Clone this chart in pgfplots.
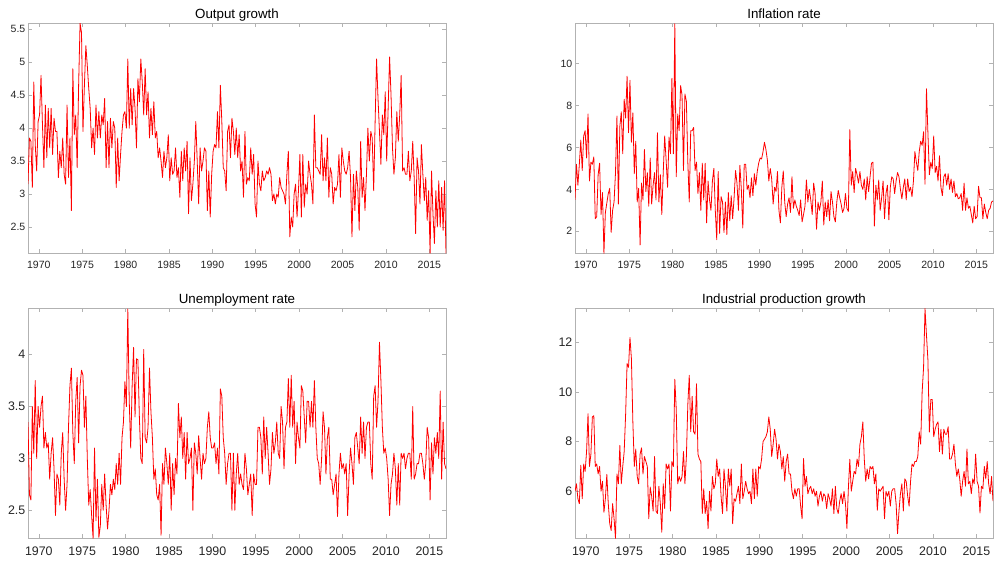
\documentclass[border=0pt]{standalone}
\usepackage{pgfplots}
\usepackage{pgfplotstable}
\pgfplotsset{compat=1.18}
\usepackage{fontspec}
\setmainfont{Liberation Sans}

\definecolor{axisgray}{RGB}{178,178,178}
\definecolor{labelgray}{RGB}{38,38,38}

% Two-monthly observations, first one at 1968.75
\pgfplotstableread[row sep=\\]{
y\\
3.15\\ 3.85\\
3.80\\ 3.10\\ 4.70\\ 3.75\\ 3.35\\ 4.10\\
4.20\\ 4.80\\ 4.05\\ 3.40\\ 4.35\\ 3.55\\
4.30\\ 3.70\\ 4.30\\ 3.60\\ 4.15\\ 3.95\\
3.95\\ 3.25\\ 3.65\\ 3.40\\ 3.85\\ 3.30\\
3.15\\ 4.35\\ 3.25\\ 3.85\\ 2.75\\ 4.90\\
3.90\\ 4.20\\ 3.40\\ 4.65\\ 5.59\\ 5.45\\
3.95\\ 4.65\\ 5.25\\ 4.95\\ 4.60\\ 4.30\\
3.70\\ 4.00\\ 3.60\\ 4.35\\ 3.85\\ 4.25\\
3.85\\ 4.20\\ 4.05\\ 4.45\\ 3.40\\ 4.10\\
3.40\\ 4.15\\ 3.70\\ 4.10\\ 4.00\\ 3.10\\
3.85\\ 3.20\\ 3.60\\ 3.95\\ 4.20\\ 4.25\\
4.00\\ 5.05\\ 4.00\\ 4.60\\ 4.05\\ 4.60\\
4.30\\ 3.70\\ 4.75\\ 4.40\\ 5.05\\ 4.70\\
4.20\\ 4.90\\ 4.20\\ 4.55\\ 3.85\\ 4.30\\
3.90\\ 4.40\\ 3.85\\ 3.95\\ 3.55\\ 3.70\\
3.50\\ 3.25\\ 3.65\\ 3.40\\ 3.55\\ 3.90\\
3.20\\ 3.55\\ 3.30\\ 3.35\\ 3.70\\ 3.25\\
3.40\\ 2.95\\ 3.65\\ 3.20\\ 3.70\\ 3.35\\
3.80\\ 2.70\\ 3.55\\ 2.90\\ 3.15\\ 3.50\\
4.10\\ 3.50\\ 2.85\\ 3.70\\ 3.35\\ 3.50\\
3.70\\ 3.65\\ 2.75\\ 3.35\\ 2.65\\ 3.30\\
3.65\\ 3.75\\ 3.70\\ 4.25\\ 3.70\\ 4.65\\
4.10\\ 3.40\\ 3.35\\ 3.05\\ 3.95\\ 4.05\\
3.55\\ 4.15\\ 3.95\\ 3.60\\ 4.00\\ 3.55\\
3.90\\ 3.35\\ 3.50\\ 2.95\\ 3.95\\ 3.15\\
3.25\\ 3.20\\ 3.70\\ 3.30\\ 3.60\\ 2.85\\
2.65\\ 3.50\\ 3.15\\ 3.05\\ 3.35\\ 3.20\\
3.25\\ 3.35\\ 3.30\\ 3.40\\ 3.30\\ 2.90\\
3.00\\ 2.85\\ 3.00\\ 2.95\\ 3.25\\ 3.10\\
3.05\\ 3.00\\ 2.85\\ 3.30\\ 3.65\\ 2.35\\
2.65\\ 2.50\\ 3.00\\ 3.15\\ 2.65\\ 3.05\\
3.60\\ 2.65\\ 3.60\\ 2.80\\ 3.15\\ 3.00\\
3.50\\ 3.30\\ 3.15\\ 2.85\\ 4.20\\ 3.40\\
3.40\\ 3.35\\ 3.30\\ 3.90\\ 3.20\\ 3.55\\
3.20\\ 3.85\\ 2.95\\ 3.40\\ 3.30\\ 2.85\\
3.10\\ 3.05\\ 3.15\\ 3.60\\ 2.95\\ 3.70\\
3.50\\ 3.35\\ 3.30\\ 3.40\\ 3.65\\ 3.25\\
2.35\\ 3.30\\ 2.75\\ 3.35\\ 3.10\\ 2.45\\
3.80\\ 2.95\\ 3.25\\ 2.75\\ 3.30\\ 4.00\\
3.50\\ 3.95\\ 3.85\\ 3.05\\ 4.10\\ 5.05\\
4.45\\ 3.95\\ 3.45\\ 4.20\\ 3.90\\ 4.55\\
3.50\\ 4.30\\ 5.08\\ 4.50\\ 3.70\\ 3.30\\
3.55\\ 4.25\\ 3.80\\ 4.20\\ 4.80\\ 3.35\\
3.40\\ 3.30\\ 3.30\\ 3.65\\ 3.20\\ 3.35\\
3.80\\ 3.25\\ 2.40\\ 3.55\\ 3.35\\ 2.85\\
3.75\\ 3.30\\ 2.90\\ 3.25\\ 2.60\\ 3.05\\
2.10\\ 3.35\\ 2.70\\ 2.25\\ 3.05\\ 2.50\\
3.20\\ 2.50\\ 3.10\\ 2.45\\ 3.20\\ 2.10\\
}\outputgrowth

\pgfplotstableread[row sep=\\]{
y\\
3.50\\ 5.20\\
4.20\\ 5.20\\ 6.35\\ 4.90\\ 6.55\\ 6.80\\
5.50\\ 7.60\\ 4.40\\ 5.30\\ 5.20\\ 5.55\\
2.60\\ 2.70\\ 4.70\\ 5.25\\ 2.80\\ 3.85\\
0.95\\ 2.90\\ 3.35\\ 3.80\\ 4.05\\ 1.95\\
3.00\\ 3.40\\ 4.80\\ 7.50\\ 3.30\\ 7.00\\
7.70\\ 5.70\\ 8.30\\ 7.40\\ 9.40\\ 6.70\\
9.20\\ 6.25\\ 7.65\\ 4.75\\ 6.30\\ 3.40\\
4.05\\ 1.35\\ 4.30\\ 3.50\\ 5.90\\ 3.90\\
4.80\\ 3.20\\ 5.50\\ 3.30\\ 4.20\\ 4.80\\
3.50\\ 6.70\\ 3.40\\ 4.70\\ 2.80\\ 4.80\\
6.55\\ 5.40\\ 4.10\\ 6.50\\ 5.70\\ 9.30\\
5.70\\ 11.90\\ 4.60\\ 7.60\\ 6.80\\ 8.95\\
8.50\\ 4.90\\ 8.55\\ 8.20\\ 5.30\\ 3.40\\
6.80\\ 6.80\\ 6.95\\ 4.90\\ 5.30\\ 3.80\\
4.80\\ 3.00\\ 5.25\\ 3.50\\ 5.25\\ 2.40\\
4.40\\ 3.50\\ 3.00\\ 4.40\\ 5.00\\ 3.00\\
1.60\\ 4.85\\ 1.90\\ 3.65\\ 3.40\\ 1.95\\
3.40\\ 1.85\\ 3.85\\ 2.50\\ 3.70\\ 2.60\\
3.60\\ 4.90\\ 4.30\\ 3.00\\ 5.15\\ 4.00\\
2.16\\ 5.20\\ 5.20\\ 4.00\\ 4.20\\ 3.60\\
4.55\\ 3.70\\ 4.75\\ 4.20\\ 4.85\\ 5.25\\
5.50\\ 5.45\\ 5.80\\ 6.25\\ 5.90\\ 5.40\\
4.40\\ 5.00\\ 4.50\\ 3.30\\ 4.10\\ 3.90\\
4.85\\ 3.00\\ 2.40\\ 4.10\\ 4.88\\ 3.40\\
2.70\\ 3.30\\ 3.60\\ 2.90\\ 4.60\\ 3.10\\
3.50\\ 3.20\\ 3.00\\ 2.75\\ 3.50\\ 2.45\\
2.80\\ 3.20\\ 4.45\\ 3.40\\ 4.00\\ 3.50\\
2.80\\ 4.30\\ 3.80\\ 2.10\\ 3.40\\ 3.00\\
3.40\\ 4.40\\ 2.30\\ 3.40\\ 2.70\\ 3.50\\
2.50\\ 3.90\\ 3.40\\ 2.70\\ 2.45\\ 3.40\\
3.95\\ 3.60\\ 3.30\\ 2.90\\ 3.10\\ 3.80\\
3.10\\ 2.95\\ 6.85\\ 4.20\\ 4.85\\ 3.85\\
5.00\\ 4.70\\ 4.30\\ 4.85\\ 4.20\\ 4.00\\
4.50\\ 3.50\\ 4.60\\ 3.90\\ 4.60\\ 5.25\\
5.30\\ 2.25\\ 4.20\\ 3.50\\ 4.45\\ 3.00\\
3.60\\ 4.40\\ 2.60\\ 3.80\\ 4.20\\ 2.55\\
4.10\\ 4.60\\ 4.50\\ 3.80\\ 4.40\\ 4.80\\
4.60\\ 4.00\\ 3.55\\ 4.10\\ 4.50\\ 3.50\\
4.50\\ 3.90\\ 4.10\\ 3.65\\ 4.40\\ 5.80\\
5.30\\ 4.90\\ 5.80\\ 6.30\\ 6.10\\ 6.75\\
4.25\\ 8.80\\ 6.70\\ 4.70\\ 5.30\\ 5.00\\
6.55\\ 4.80\\ 5.10\\ 4.40\\ 5.60\\ 4.10\\
3.70\\ 4.60\\ 4.75\\ 4.20\\ 4.75\\ 4.00\\
4.50\\ 3.85\\ 4.40\\ 3.65\\ 3.80\\ 3.55\\
3.60\\ 3.80\\ 3.00\\ 4.30\\ 3.00\\ 3.60\\
3.10\\ 3.20\\ 2.80\\ 2.40\\ 3.20\\ 2.60\\
2.70\\ 4.15\\ 3.60\\ 3.60\\ 2.60\\ 3.30\\
2.90\\ 2.60\\ 3.00\\ 3.10\\ 3.40\\ 3.45\\
}\inflation

\pgfplotstableread[row sep=\\]{
y\\
3.35\\ 2.65\\
2.60\\ 3.50\\ 3.05\\ 3.75\\ 3.00\\ 3.50\\
3.30\\ 3.50\\ 3.60\\ 3.10\\ 3.25\\ 3.10\\
3.15\\ 2.80\\ 3.05\\ 3.20\\ 2.90\\ 2.45\\
2.85\\ 2.80\\ 2.55\\ 3.05\\ 3.25\\ 2.80\\
2.50\\ 2.75\\ 3.30\\ 3.70\\ 3.87\\ 3.25\\
2.95\\ 3.55\\ 3.78\\ 3.15\\ 3.70\\ 3.85\\
3.80\\ 3.30\\ 3.60\\ 3.00\\ 2.55\\ 2.70\\
2.45\\ 2.23\\ 3.10\\ 2.40\\ 2.80\\ 2.24\\
2.35\\ 2.75\\ 2.50\\ 2.85\\ 2.55\\ 2.32\\
2.50\\ 2.75\\ 2.65\\ 2.80\\ 2.70\\ 2.95\\
2.75\\ 3.05\\ 2.75\\ 3.20\\ 3.35\\ 3.74\\
3.50\\ 4.44\\ 3.55\\ 3.10\\ 3.70\\ 4.07\\
3.40\\ 3.96\\ 3.95\\ 3.40\\ 3.00\\ 2.95\\
4.05\\ 3.20\\ 3.15\\ 3.30\\ 3.87\\ 3.45\\
3.20\\ 2.80\\ 2.90\\ 2.65\\ 2.60\\ 2.75\\
2.26\\ 2.95\\ 2.75\\ 3.10\\ 2.95\\ 2.75\\
3.05\\ 2.50\\ 2.95\\ 2.65\\ 3.00\\ 2.85\\
3.53\\ 3.20\\ 3.40\\ 3.00\\ 3.25\\ 2.80\\
3.25\\ 2.95\\ 3.00\\ 3.10\\ 2.50\\ 3.15\\
3.05\\ 2.85\\ 3.22\\ 3.00\\ 2.80\\ 3.05\\
2.95\\ 3.00\\ 3.30\\ 3.45\\ 3.20\\ 3.10\\
3.10\\ 3.15\\ 2.95\\ 3.10\\ 2.85\\ 3.67\\
3.60\\ 3.20\\ 3.05\\ 2.75\\ 2.95\\ 3.05\\
3.05\\ 2.50\\ 3.05\\ 2.50\\ 2.85\\ 3.05\\
2.75\\ 2.85\\ 2.75\\ 2.70\\ 3.05\\ 2.90\\
2.65\\ 2.75\\ 2.85\\ 2.45\\ 2.85\\ 2.75\\
2.75\\ 3.30\\ 3.30\\ 3.20\\ 2.85\\ 3.40\\
3.00\\ 3.30\\ 3.05\\ 2.75\\ 2.90\\ 3.25\\
3.05\\ 3.15\\ 3.35\\ 3.05\\ 3.00\\ 3.50\\
3.35\\ 2.90\\ 3.30\\ 3.35\\ 3.77\\ 3.30\\
3.80\\ 3.30\\ 3.55\\ 2.95\\ 3.35\\ 3.20\\
3.10\\ 3.70\\ 3.65\\ 3.40\\ 3.15\\ 3.55\\
3.55\\ 3.30\\ 3.55\\ 3.30\\ 3.75\\ 3.30\\
3.00\\ 2.95\\ 2.75\\ 3.00\\ 3.45\\ 3.30\\
2.85\\ 3.20\\ 3.30\\ 2.80\\ 2.80\\ 2.65\\
2.75\\ 2.85\\ 2.44\\ 2.85\\ 3.05\\ 2.90\\
2.95\\ 2.85\\ 2.95\\ 2.45\\ 2.85\\ 3.10\\
2.95\\ 2.75\\ 3.20\\ 3.25\\ 3.10\\ 2.95\\
3.40\\ 3.05\\ 3.35\\ 3.00\\ 3.30\\ 3.35\\
3.35\\ 2.95\\ 2.80\\ 3.60\\ 3.70\\ 3.30\\
3.55\\ 4.12\\ 3.75\\ 3.30\\ 3.05\\ 3.10\\
3.00\\ 2.80\\ 2.45\\ 2.75\\ 2.85\\ 3.05\\
2.90\\ 2.55\\ 2.95\\ 2.55\\ 3.05\\ 3.00\\
3.05\\ 2.90\\ 3.00\\ 3.05\\ 3.05\\ 2.80\\
3.50\\ 2.80\\ 2.85\\ 2.95\\ 2.95\\ 3.05\\
3.05\\ 2.95\\ 2.80\\ 2.95\\ 3.30\\ 3.20\\
2.60\\ 3.15\\ 2.85\\ 3.20\\ 3.05\\ 3.25\\
3.00\\ 3.65\\ 2.80\\ 3.35\\ 2.95\\ 2.90\\
}\unemployment

\pgfplotstableread[row sep=\\]{
y\\
6.00\\ 6.30\\
5.70\\ 5.50\\ 7.05\\ 5.70\\ 7.10\\ 6.80\\
7.60\\ 9.13\\ 7.00\\ 7.50\\ 9.00\\ 9.05\\
7.00\\ 7.10\\ 6.70\\ 7.00\\ 6.00\\ 6.40\\
5.15\\ 5.70\\ 6.68\\ 5.50\\ 4.70\\ 4.42\\
5.50\\ 4.90\\ 4.10\\ 6.70\\ 6.30\\ 7.85\\
6.30\\ 7.00\\ 7.60\\ 9.10\\ 11.15\\ 11.00\\
12.20\\ 11.35\\ 8.80\\ 7.00\\ 7.70\\ 6.60\\
6.30\\ 7.50\\ 7.75\\ 6.70\\ 7.40\\ 7.20\\
7.00\\ 4.89\\ 6.17\\ 5.80\\ 5.20\\ 7.40\\
5.20\\ 5.10\\ 6.20\\ 5.50\\ 4.35\\ 6.30\\
5.30\\ 7.10\\ 6.90\\ 7.10\\ 5.20\\ 7.20\\
7.00\\ 10.52\\ 9.30\\ 6.30\\ 6.60\\ 6.40\\
6.60\\ 7.60\\ 6.30\\ 7.40\\ 9.50\\ 10.68\\
8.40\\ 9.83\\ 8.40\\ 8.30\\ 10.34\\ 7.50\\
7.30\\ 7.20\\ 5.10\\ 6.10\\ 5.10\\ 5.60\\
4.49\\ 6.00\\ 5.20\\ 6.60\\ 6.10\\ 6.30\\
7.30\\ 6.60\\ 6.90\\ 5.80\\ 5.10\\ 6.90\\
6.20\\ 5.20\\ 6.90\\ 6.20\\ 6.90\\ 4.69\\
5.70\\ 5.60\\ 5.90\\ 6.20\\ 5.50\\ 7.10\\
5.70\\ 6.00\\ 6.40\\ 6.10\\ 5.90\\ 6.00\\
5.50\\ 6.90\\ 5.70\\ 6.90\\ 5.80\\ 7.00\\
6.90\\ 7.30\\ 8.00\\ 8.10\\ 8.20\\ 8.40\\
9.00\\ 8.50\\ 7.40\\ 7.90\\ 8.50\\ 8.10\\
7.30\\ 7.90\\ 7.60\\ 6.90\\ 7.40\\ 6.40\\
7.20\\ 7.50\\ 6.70\\ 6.70\\ 6.00\\ 5.70\\
6.10\\ 5.80\\ 6.10\\ 6.10\\ 5.40\\ 4.89\\
7.32\\ 6.20\\ 6.60\\ 5.90\\ 6.10\\ 6.20\\
5.90\\ 6.10\\ 5.80\\ 6.00\\ 5.40\\ 5.80\\
6.00\\ 5.60\\ 5.90\\ 5.80\\ 5.30\\ 5.90\\
5.70\\ 5.40\\ 6.10\\ 5.10\\ 6.20\\ 5.30\\
5.10\\ 5.60\\ 5.90\\ 5.50\\ 6.00\\ 5.50\\
4.50\\ 6.10\\ 7.29\\ 6.00\\ 6.40\\ 6.80\\
6.70\\ 7.30\\ 7.00\\ 7.90\\ 8.20\\ 8.80\\
7.30\\ 6.40\\ 6.90\\ 6.50\\ 7.00\\ 6.90\\
7.00\\ 6.30\\ 6.70\\ 5.23\\ 6.10\\ 6.00\\
6.10\\ 6.20\\ 4.89\\ 6.00\\ 5.80\\ 6.00\\
5.40\\ 6.00\\ 6.10\\ 6.10\\ 5.50\\ 4.29\\
5.20\\ 5.90\\ 6.30\\ 5.20\\ 6.50\\ 6.40\\
5.80\\ 5.40\\ 6.40\\ 7.10\\ 7.00\\ 7.20\\
7.20\\ 7.40\\ 8.40\\ 7.90\\ 10.00\\ 11.00\\
13.37\\ 12.30\\ 11.30\\ 8.39\\ 9.70\\ 9.70\\
8.20\\ 8.50\\ 8.70\\ 8.80\\ 7.60\\ 8.50\\
7.50\\ 8.50\\ 8.30\\ 8.30\\ 8.60\\ 7.30\\
7.30\\ 7.50\\ 7.90\\ 7.10\\ 6.60\\ 6.90\\
6.50\\ 5.80\\ 6.40\\ 6.80\\ 6.20\\ 7.70\\
6.30\\ 6.40\\ 5.90\\ 6.50\\ 6.30\\ 7.50\\
6.40\\ 6.20\\ 5.12\\ 6.20\\ 6.10\\ 7.00\\
6.50\\ 7.20\\ 6.30\\ 5.90\\ 6.60\\ 5.60\\
}\indprod

\pgfplotsset{
  panel/.style={
    scale only axis, width=313.5pt, height=172.5pt,
    xmin=1968.75, xmax=2016.917,
    xtick={1970,1975,1980,1985,1990,1995,2000,2005,2010,2015},
    tick align=inside, major tick length=3pt,
    axis line style={draw=axisgray, line width=0.5pt},
    every tick/.append style={draw=axisgray, line width=0.5pt},
    /pgf/number format/assume math mode=true,
    tick label style={text=labelgray},
    xticklabel style={anchor=north, inner sep=0pt, yshift=-5.5pt,
      /pgf/number format/1000 sep={}},
    yticklabel style={anchor=east, inner sep=0pt, xshift=-1.8pt},
    every axis title/.style={at={(0.5,1)}, anchor=base, inner sep=0pt,
      yshift=3.9pt, font=\fontsize{10}{12}\selectfont},
  },
  toprow/.style={tick label style={font=\fontsize{7.9}{9}\selectfont}},
  bottomrow/.style={tick label style={font=\fontsize{9.3}{11}\selectfont},
    xticklabel style={yshift=-0.8pt}},
  series/.style={red, line width=0.6pt, line join=round, no markers},
}

\begin{document}
\begin{tikzpicture}
\useasboundingbox (0,0) rectangle (746.25pt,421.5pt);

\begin{axis}[panel, toprow, at={(21pt,231.5pt)}, anchor=south west,
  ymin=2.1, ymax=5.59, ytick={2.5,3,3.5,4,4.5,5,5.5}, title={Output growth}]
\addplot[series] table[x expr={1968.75+\coordindex/6}, y=y] {\outputgrowth};
\end{axis}

\begin{axis}[panel, toprow, at={(431.25pt,231.5pt)}, anchor=south west,
  ymin=0.95, ymax=11.92, ytick={2,4,6,8,10}, title={Inflation rate}]
\addplot[series] table[x expr={1968.75+\coordindex/6}, y=y] {\inflation};
\end{axis}

\begin{axis}[panel, bottomrow, at={(21pt,17.75pt)}, anchor=south west,
  ymin=2.23, ymax=4.446, ytick={2.5,3,3.5,4}, title={Unemployment rate}]
\addplot[series] table[x expr={1968.75+\coordindex/6}, y=y] {\unemployment};
\end{axis}

\begin{axis}[panel, bottomrow, at={(431.25pt,17.75pt)}, anchor=south west,
  ymin=4.1, ymax=13.38, ytick={6,8,10,12}, title={Industrial production growth}]
\addplot[series] table[x expr={1968.75+\coordindex/6}, y=y] {\indprod};
\end{axis}
\end{tikzpicture}
\end{document}
